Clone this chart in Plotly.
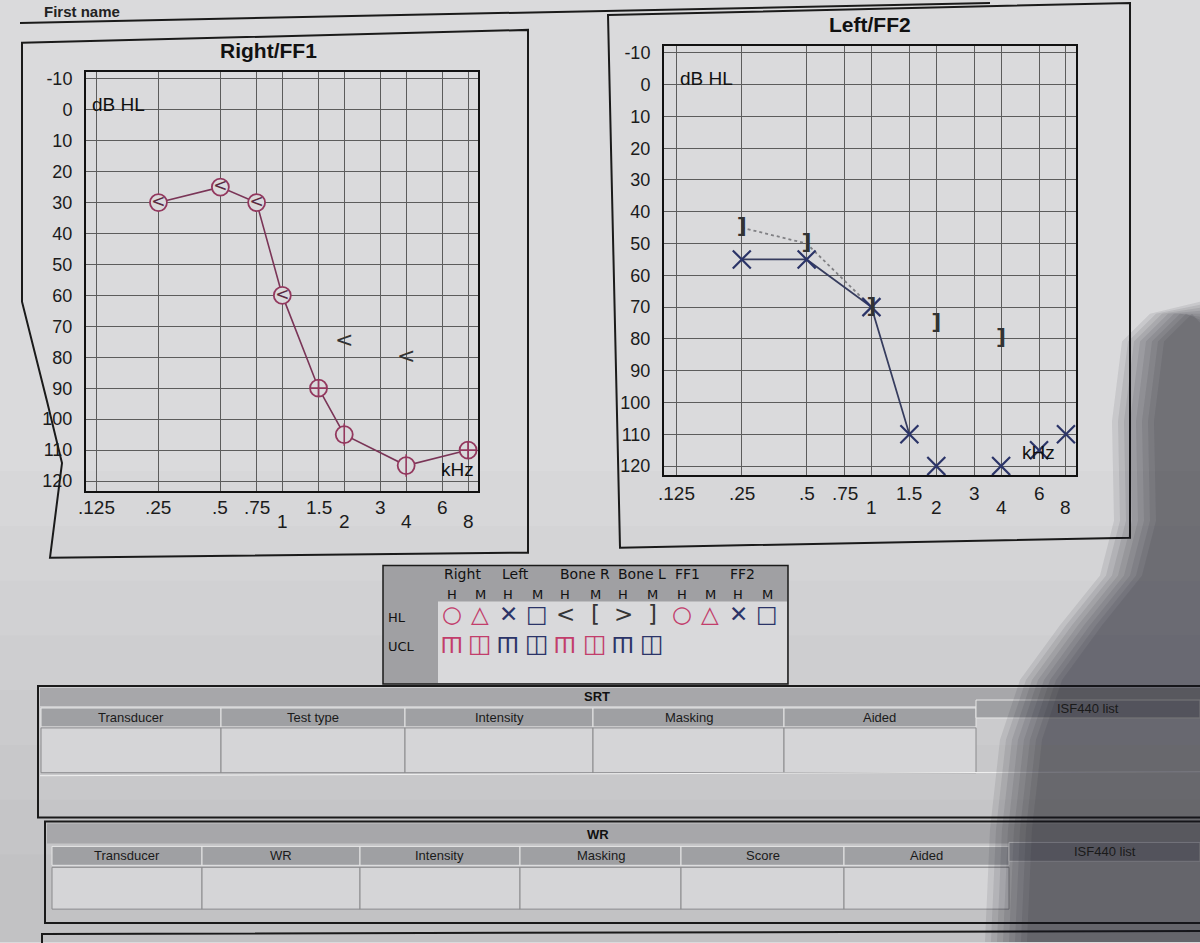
import math
import plotly.graph_objects as go

W, H = 1200, 943

# ---------------- data ----------------
freq_ticks = [0.125, 0.25, 0.5, 0.75, 1, 1.5, 2, 3, 4, 6, 8]
freq_labels = [".125", ".25", ".5", ".75", "1", "1.5", "2", "3", "4", "6", "8"]
freq_label_row = [0, 0, 0, 0, 1, 0, 1, 0, 1, 0, 1]
db_ticks = list(range(-10, 121, 10))

# Right / FF1 air thresholds
right_freq = [0.25, 0.5, 0.75, 1, 1.5, 2, 4, 8]
right_db = [30, 25, 30, 60, 90, 105, 115, 110]
right_symbol = ["circle", "circle", "circle", "circle",
                "circle-cross", "circle", "circle", "circle-cross"]
right_inner_glyph = ["<", "<", "<", "<", "", "", "", ""]
right_inner_bar = [False, False, False, False, False, True, True, False]

# Right bone conduction
right_bone_freq = [2, 4]
right_bone_db = [75, 80]

# Left / FF2 air thresholds (first 4 joined by a line)
left_freq = [0.25, 0.5, 1, 1.5, 2, 4, 6, 8]
left_db = [55, 55, 70, 110, 120, 120, 115, 110]
left_joined = 4

# Left bone conduction (first 3 joined by a dotted line)
left_bone_freq = [0.25, 0.5, 1, 2, 4]
left_bone_db = [45, 50, 70, 75, 80]
left_bone_joined = 3

# legend key
legend_groups = ["Right", "Left", "Bone R", "Bone L", "FF1", "FF2"]
legend_hm = ["H", "M"] * 6
legend_hl_glyphs = ["○", "△", "✕", "□", "<", "[", ">", "]", "○", "△", "✕", "□"]
legend_hl_colors = ["red", "red", "navy", "navy", "dark", "dark", "dark", "dark",
                    "red", "red", "navy", "navy"]
legend_ucl_glyphs = ["Ш", "◫", "Ш", "◫", "Ш", "◫", "Ш", "◫"]
legend_ucl_colors = ["red", "red", "navy", "navy", "red", "red", "navy", "navy"]

# tables
srt_cols = ["Transducer", "Test type", "Intensity", "Masking", "Aided", "ISF440 list"]
wr_cols = ["Transducer", "WR", "Intensity", "Masking", "Score", "Aided", "ISF440 list"]

# ---------------- helpers ----------------
def X(px):
    return px / W


def Y(py):
    return 1 - py / H


LOG2 = math.log10(2)
RED = "#c23d6b"
NAVY = "#2b3468"
DARK = "#353535"
COLMAP = {"red": RED, "navy": NAVY, "dark": DARK}
MAROON = "#93385e"
BG = "#dadadc"
FONT = "Liberation Sans"

fig = go.Figure()

# ---------------- traces: Right/FF1 ----------------
fig.add_trace(go.Scatter(
    x=right_freq, y=right_db, mode="lines+markers", xaxis="x", yaxis="y",
    line=dict(color="#7a3557", width=1.6),
    marker=dict(symbol=right_symbol, size=17, color=BG,
                line=dict(color=MAROON, width=1.8)),
    showlegend=False, hoverinfo="skip"))
g_x = [f for f, g in zip(right_freq, right_inner_glyph) if g]
g_y = [d for d, g in zip(right_db, right_inner_glyph) if g]
g_t = [g for g in right_inner_glyph if g]
fig.add_trace(go.Scatter(
    x=g_x, y=g_y, text=g_t, mode="text", xaxis="x", yaxis="y",
    textfont=dict(size=17, color="#5a2a42", family="DejaVu Sans"),
    textposition="middle center", showlegend=False, hoverinfo="skip"))
b_x = [f for f, b in zip(right_freq, right_inner_bar) if b]
b_y = [d for d, b in zip(right_db, right_inner_bar) if b]
fig.add_trace(go.Scatter(
    x=b_x, y=b_y, mode="markers", xaxis="x", yaxis="y",
    marker=dict(symbol="line-ns", size=16, line=dict(color=MAROON, width=1.6)),
    showlegend=False, hoverinfo="skip"))
fig.add_trace(go.Scatter(
    x=right_bone_freq, y=right_bone_db, text=["<"] * len(right_bone_freq),
    mode="text", xaxis="x", yaxis="y",
    textfont=dict(size=22, color="#333333", family="DejaVu Sans"),
    textposition="middle center", showlegend=False, hoverinfo="skip"))

# ---------------- traces: Left/FF2 ----------------
fig.add_trace(go.Scatter(
    x=left_bone_freq[:left_bone_joined], y=left_bone_db[:left_bone_joined],
    mode="lines", xaxis="x2", yaxis="y2",
    line=dict(color="#808084", width=1.8, dash="dot"),
    showlegend=False, hoverinfo="skip"))
fig.add_trace(go.Scatter(
    x=left_freq[:left_joined], y=left_db[:left_joined], mode="lines",
    xaxis="x2", yaxis="y2", line=dict(color="#363c5e", width=1.7),
    showlegend=False, hoverinfo="skip"))
fig.add_trace(go.Scatter(
    x=left_freq, y=left_db, mode="markers", xaxis="x2", yaxis="y2",
    marker=dict(symbol="x-thin", size=18, line=dict(color=NAVY, width=2.2)),
    showlegend=False, hoverinfo="skip"))
fig.add_trace(go.Scatter(
    x=left_bone_freq, y=left_bone_db, text=["<b>]</b>"] * len(left_bone_freq),
    mode="text", xaxis="x2", yaxis="y2",
    textfont=dict(size=22, color="#333333", family="DejaVu Sans"),
    textposition="middle center", showlegend=False, hoverinfo="skip"))

# ---------------- axes ----------------
def xaxis_style(px0, px1, left_oct, right_oct, anchor):
    return dict(
        type="log", domain=[X(px0), X(px1)], anchor=anchor,
        range=[math.log10(0.125) - left_oct * LOG2, math.log10(8) + right_oct * LOG2],
        tickvals=freq_ticks, showticklabels=False, ticks="",
        showgrid=True, gridcolor="#5c5c5c", gridwidth=1,
        showline=True, linecolor="#111111", linewidth=2, mirror=True,
        zeroline=False, fixedrange=True)


def yaxis_style(py_bottom, py_top, rng, anchor):
    return dict(
        domain=[Y(py_bottom), Y(py_top)], anchor=anchor, range=rng,
        tickvals=db_ticks, ticktext=[str(v) for v in db_ticks], ticks="",
        tickfont=dict(size=18, color="#1b1b1b", family=FONT),
        ticklabelstandoff=8,
        showgrid=True, gridcolor="#5c5c5c", gridwidth=1,
        showline=True, linecolor="#111111", linewidth=2, mirror=True,
        zeroline=False, fixedrange=True)


fig.update_layout(
    xaxis=xaxis_style(86, 478, 0.17, 0.16, "y"),
    yaxis=yaxis_style(490, 69, [123.2, -12.3], "x"),
    xaxis2=xaxis_style(664, 1076, 0.2, 0.155, "y2"),
    yaxis2=yaxis_style(474, 43, [122.8, -12.2], "x2"),
)

annotations = []
# x tick labels (two staggered rows) placed on the log axes
for axis, row_y in (("x", (507, 521)), ("x2", (493, 507))):
    for f, lab, row in zip(freq_ticks, freq_labels, freq_label_row):
        annotations.append(dict(
            x=math.log10(f), y=Y(row_y[row]), xref=axis, yref="paper",
            text=lab, showarrow=False, xanchor="center", yanchor="middle",
            font=dict(size=19, color="#1b1b1b", family=FONT)))

# titles and axis captions
for txt, x, y, size, bold in (
        ("Right/FF1", 268, 48, 21, True), ("Left/FF2", 870, 22, 21, True),
        ("dB HL", 118, 102, 19, False), ("dB HL", 707, 76, 19, False),
        ("kHz", 457, 468, 19, False), ("kHz", 1038, 451, 19, False)):
    annotations.append(dict(
        x=X(x), y=Y(y), xref="paper", yref="paper", showarrow=False,
        text=f"<b>{txt}</b>" if bold else txt, xanchor="center", yanchor="middle",
        font=dict(size=size, color="#111", family=FONT)))

annotations.append(dict(x=X(42), y=Y(9), xref="paper", yref="paper", showarrow=False,
                        text="<b>First name</b>", xanchor="left", yanchor="middle",
                        font=dict(size=15, color="#222", family=FONT)))

# ---------------- legend key box ----------------
LEG_FONT = "DejaVu Sans"
group_x = [463, 515, 585, 642, 687, 742]
for g, gx in zip(legend_groups, group_x):
    annotations.append(dict(x=X(gx), y=Y(573), xref="paper", yref="paper", showarrow=False,
                            text=g, xanchor="center", yanchor="middle",
                            font=dict(size=14, color="#111", family=LEG_FONT)))
col_x = [452, 480, 508, 537, 565, 595, 623, 652, 682, 710, 738, 767]
for hm, cx in zip(legend_hm, col_x):
    annotations.append(dict(x=X(cx), y=Y(594), xref="paper", yref="paper", showarrow=False,
                            text=hm, xanchor="center", yanchor="middle",
                            font=dict(size=13, color="#111", family=LEG_FONT)))
for glyph, col, cx in zip(legend_hl_glyphs, legend_hl_colors, col_x):
    annotations.append(dict(x=X(cx), y=Y(614), xref="paper", yref="paper", showarrow=False,
                            text=glyph, xanchor="center", yanchor="middle",
                            font=dict(size=23, color=COLMAP[col], family=LEG_FONT)))
for glyph, col, cx in zip(legend_ucl_glyphs, legend_ucl_colors, col_x):
    annotations.append(dict(x=X(cx), y=Y(643), xref="paper", yref="paper", showarrow=False,
                            text=glyph, xanchor="center", yanchor="middle",
                            textangle=180 if glyph == "Ш" else 0,
                            font=dict(size=21 if glyph == "Ш" else 25,
                                      color=COLMAP[col], family=LEG_FONT)))
for lab, y in (("HL", 617), ("UCL", 646)):
    annotations.append(dict(x=X(386), y=Y(y), xref="paper", yref="paper", showarrow=False,
                            text=lab, xanchor="left", yanchor="middle",
                            font=dict(size=13, color="#111", family=LEG_FONT)))

# ---------------- tables ----------------
TFONT = "Liberation Sans Narrow, Liberation Sans"
srt_edges = [41, 221, 405, 593, 784, 976, 1200]
wr_edges = [52, 202, 360, 520, 681, 844, 1009, 1200]

shapes = []


def rect(x0, y0, x1, y1, fill=None, line_color=None, width=1, layer="below"):
    return dict(type="rect", xref="paper", yref="paper",
                x0=X(x0), x1=X(x1), y0=Y(y1), y1=Y(y0),
                fillcolor=fill if fill else "rgba(0,0,0,0)",
                line=dict(color=line_color if line_color else "rgba(0,0,0,0)", width=width),
                layer=layer)


def path(points, fill=None, line_color=None, width=1, layer="below", closed=True):
    d = "M " + " L ".join(f"{X(px):.5f},{Y(py):.5f}" for px, py in points)
    if closed:
        d += " Z"
    return dict(type="path", xref="paper", yref="paper", path=d,
                fillcolor=fill if fill else "rgba(0,0,0,0)",
                line=dict(color=line_color if line_color else "rgba(0,0,0,0)", width=width),
                layer=layer)


# gentle darkening of the lower part of the page photo
for i in range(8):
    shapes.append(rect(0, 470 + i * 55, 1200, 943, fill="rgba(0,0,0,0.012)"))

# header strip line
shapes.append(path([(20, 20), (990, 0)], line_color="#1a1a1a", width=2, closed=False))

# chart panels
shapes.append(path([(22, 40), (528, 27), (528, 552), (50, 557), (62, 462), (47, 400), (22, 300)],
                   line_color="#1a1a1a", width=2))
shapes.append(path([(608, 12), (1130, 0), (1130, 537), (620, 547)],
                   line_color="#1a1a1a", width=2))

# legend box
shapes.append(rect(383, 565, 788, 684, fill="#a0a0a3", line_color="#1a1a1a", width=1.5))
shapes.append(rect(438, 601, 787, 683, fill="#d9d9db"))

# SRT table
shapes.append(rect(38, 686, 1205, 818, line_color="#1a1a1a", width=2))
shapes.append(rect(40, 688, 1205, 706, fill="#a7a7aa"))
for i, name in enumerate(srt_cols):
    x0, x1 = srt_edges[i], srt_edges[i + 1]
    is_last = i == len(srt_cols) - 1
    hy0, hy1 = (700, 718) if is_last else (708, 727)
    shapes.append(rect(x0, hy0, x1, hy1, fill="#9fa0a3", line_color="#e6e6e6", width=1))
    if not is_last:
        shapes.append(rect(x0, 728, x1, 773, fill="#d5d5d7", line_color="#8a8a8c", width=1))
    annotations.append(dict(x=X((x0 + x1) / 2), y=Y((hy0 + hy1) / 2), xref="paper", yref="paper",
                            showarrow=False, text=name, xanchor="center", yanchor="middle",
                            font=dict(size=13, color="#1a1a1a", family=TFONT)))
shapes.append(path([(40, 776), (1205, 772)], line_color="#f0f0f0", width=1, closed=False))
annotations.append(dict(x=X(597), y=Y(696), xref="paper", yref="paper", showarrow=False,
                        text="<b>SRT</b>", xanchor="center", yanchor="middle",
                        font=dict(size=13, color="#111", family=TFONT)))

# WR table
shapes.append(rect(45, 822, 1205, 924, line_color="#1a1a1a", width=2))
shapes.append(rect(47, 824, 1205, 844, fill="#a7a7aa"))
for i, name in enumerate(wr_cols):
    x0, x1 = wr_edges[i], wr_edges[i + 1]
    is_last = i == len(wr_cols) - 1
    hy0, hy1 = (843, 862) if is_last else (847, 866)
    shapes.append(rect(x0, hy0, x1, hy1, fill="#9fa0a3", line_color="#e6e6e6", width=1))
    if not is_last:
        shapes.append(rect(x0, 868, x1, 910, fill="#d5d5d7", line_color="#8a8a8c", width=1))
    annotations.append(dict(x=X((x0 + x1) / 2), y=Y((hy0 + hy1) / 2), xref="paper", yref="paper",
                            showarrow=False, text=name, xanchor="center", yanchor="middle",
                            font=dict(size=13, color="#1a1a1a", family=TFONT)))
annotations.append(dict(x=X(598), y=Y(835), xref="paper", yref="paper", showarrow=False,
                        text="<b>WR</b>", xanchor="center", yanchor="middle",
                        font=dict(size=13, color="#111", family=TFONT)))

# next box (cut off at the bottom)
shapes.append(path([(42, 950), (42, 935), (1205, 932)], line_color="#1a1a1a", width=2, closed=False))

# hand shadow on the right
shadow = [(1200, 300), (1150, 312), (1122, 340), (1112, 420), (1114, 520), (1100, 575),
          (1060, 625), (1020, 680), (1000, 740), (990, 830), (985, 943), (1200, 943)]
for k in range(8):
    dx = k * 6
    pts = [((px + dx) if px < 1200 else px, py + (dx * 0.5 if py == 300 else 0))
           for px, py in shadow]
    shapes.append(path(pts, fill="rgba(25,25,30,0.09)", layer="above"))

fig.update_layout(
    width=W, height=H, margin=dict(l=0, r=0, t=0, b=0),
    paper_bgcolor=BG, plot_bgcolor="rgba(0,0,0,0)",
    showlegend=False, shapes=shapes, annotations=annotations,
    font=dict(family=FONT),
)

fig.write_html(
    "out.html",
    config={"displayModeBar": False},
    post_script="document.body.style.margin='0px';document.body.style.overflow='hidden';",
)
